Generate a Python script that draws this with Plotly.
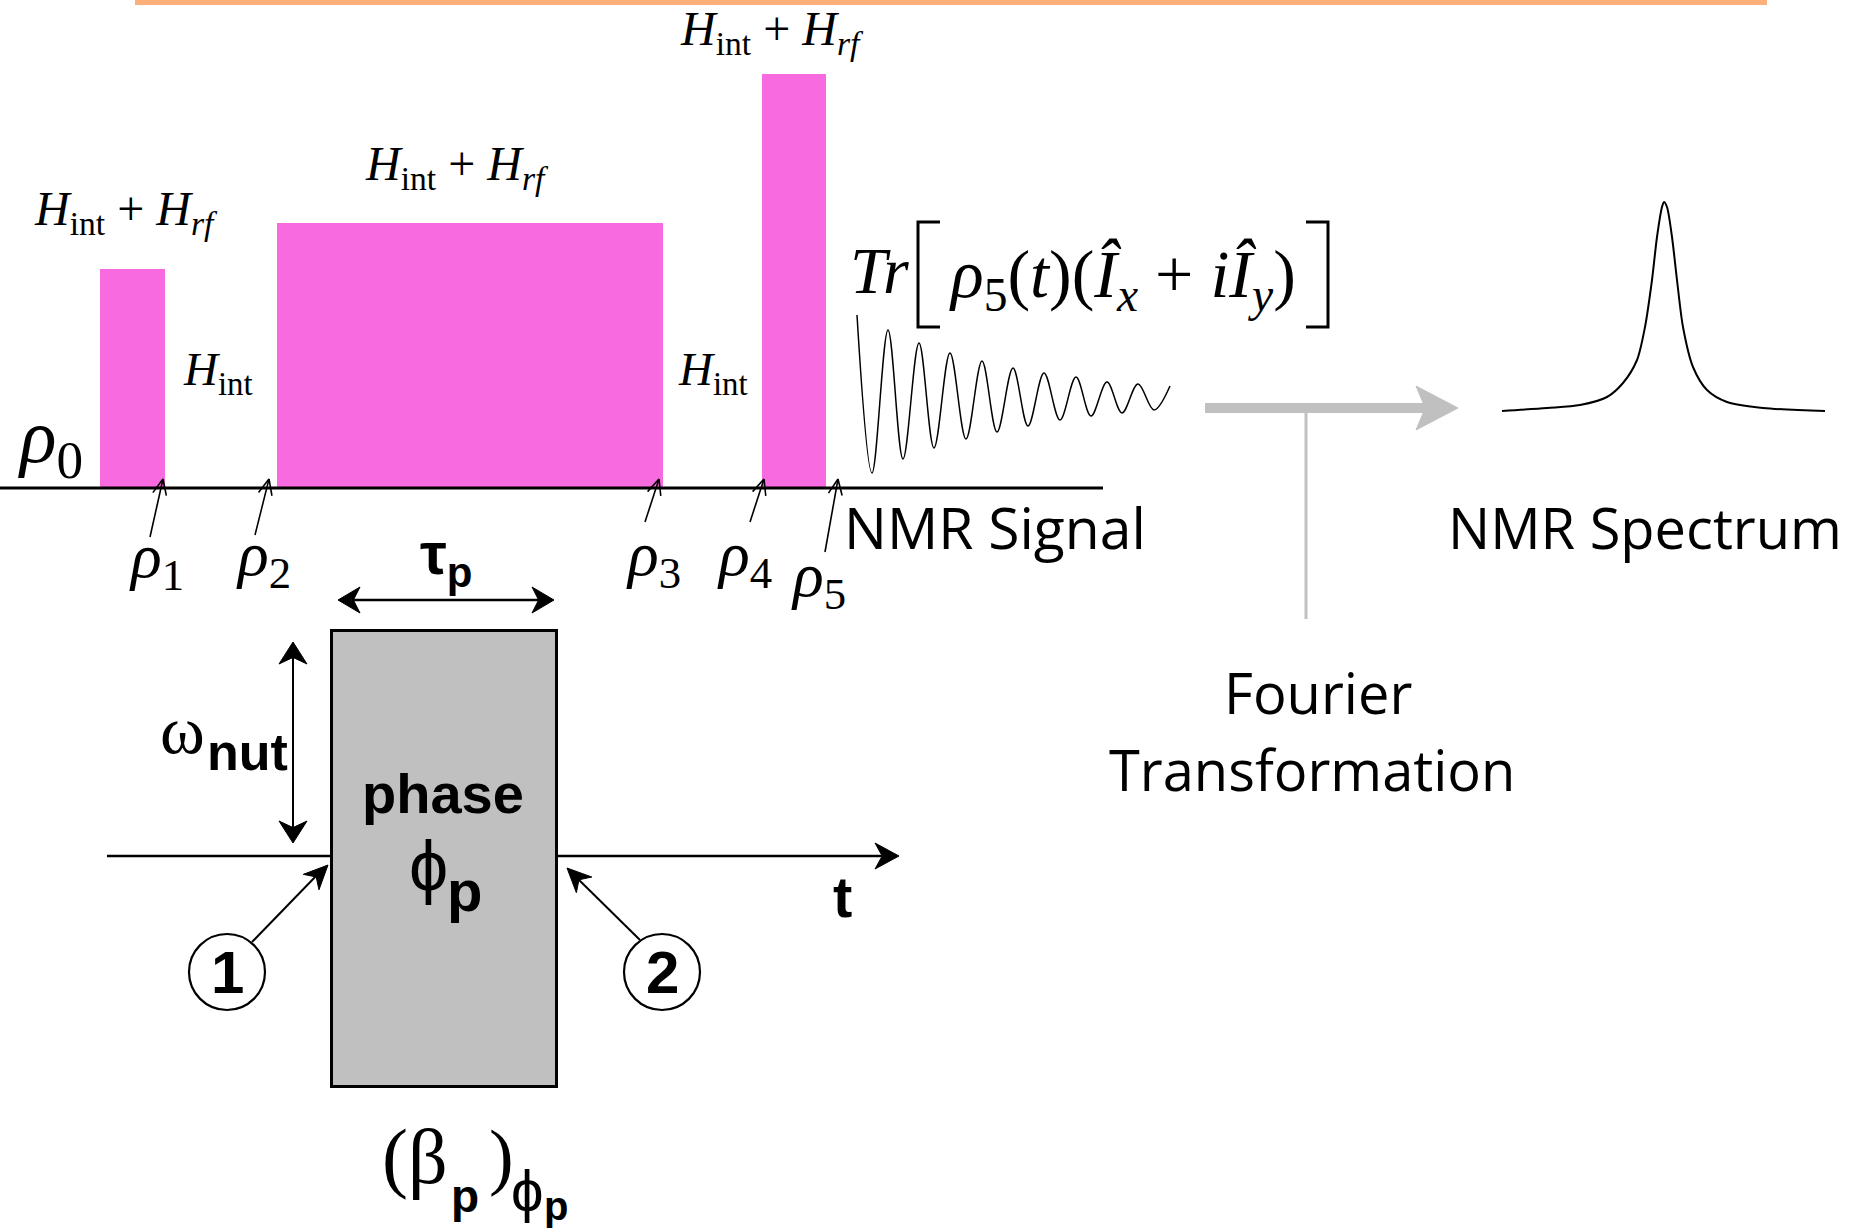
import math
import plotly.graph_objects as go

W, H = 1849, 1232

# ---- pulse sequence (pixel time axis, heights above the baseline) ----
baseline_y = 487
pulse_start = [100, 277, 762]
pulse_end = [165, 663, 826]
pulse_height = [218, 264, 413]
pulse_labels = ["<i>H</i><sub>int</sub> + <i>H</i><sub><i>rf</i></sub>"] * 3
free_labels = ["<i>H</i><sub>int</sub>", "<i>H</i><sub>int</sub>"]

# density-operator markers along the sequence
rho_names = ["1", "2", "3", "4", "5"]
rho_tip_x = [163, 269, 659, 764, 838]
rho_tail = [(150, 537), (255, 535), (645, 522), (750, 522), (825, 552)]
rho_label_pos = [(156, 560), (263, 558), (653, 558), (744, 558), (818, 579)]

# ---- free induction decay: start point and successive extrema ----
fid_t = [857, 872, 888, 903, 919, 934, 950, 966, 982, 997, 1013,
         1028, 1044, 1060, 1076, 1091, 1107, 1122, 1138, 1154, 1170]
fid_y = [315, 473, 330, 459, 343, 448, 353, 439, 361, 432, 368,
         426, 373, 420, 377, 416, 382, 413, 384, 410, 386]

# ---- spectrum line shape ----
spec_x = [1502, 1547, 1580, 1607, 1623, 1637, 1645, 1652, 1657, 1662, 1664,
          1667, 1672, 1677, 1683, 1693, 1707, 1727, 1763, 1825]
spec_y = [411, 408, 405, 397, 383, 360, 327, 280, 237, 207, 202,
          207, 237, 280, 327, 367, 390, 402, 408, 411]

# ---- single rectangular pulse ----
box_x = [332, 557]
box_y = [631, 1087]

SERIF = "Liberation Serif"
SANS = "Liberation Sans"
SOFT = "Open Sans"
PINK = "#F86ADF"
GREY = "#C0C0C0"

fig = go.Figure()

# pink pulses as bars rising from the baseline
fig.add_trace(go.Bar(
    x=[(a + b) / 2 for a, b in zip(pulse_start, pulse_end)],
    width=[b - a for a, b in zip(pulse_start, pulse_end)],
    base=[baseline_y] * 3,
    y=[-h for h in pulse_height],
    marker=dict(color=PINK, line=dict(width=0)),
    hoverinfo="skip", showlegend=False,
))

# grey pulse block
fig.add_trace(go.Bar(
    x=[(box_x[0] + box_x[1]) / 2], width=[box_x[1] - box_x[0]],
    base=[box_y[0]], y=[box_y[1] - box_y[0]],
    marker=dict(color=GREY, line=dict(color="black", width=3)),
    hoverinfo="skip", showlegend=False,
))

# FID
fig.add_trace(go.Scatter(
    x=fid_t, y=fid_y, mode="lines",
    line=dict(color="black", width=1.5, shape="spline", smoothing=1.0),
    hoverinfo="skip", showlegend=False,
))

# spectrum
fig.add_trace(go.Scatter(
    x=spec_x, y=spec_y, mode="lines",
    line=dict(color="black", width=2, shape="spline", smoothing=0.8),
    hoverinfo="skip", showlegend=False,
))

shapes = []


def line(x0, y0, x1, y1, color="black", width=2, layer="above"):
    shapes.append(dict(type="line", x0=x0, y0=y0, x1=x1, y1=y1,
                       xref="x", yref="y", line=dict(color=color, width=width),
                       layer=layer))


def stealth(tx, ty, fx, fy, length=22, half=13, notch=0.3, color="black"):
    """Filled arrowhead with tip at (tx, ty), pointing away from (fx, fy)."""
    dx, dy = tx - fx, ty - fy
    n = math.hypot(dx, dy)
    ux, uy = dx / n, dy / n
    px, py = -uy, ux
    bx, by = tx - ux * length, ty - uy * length
    ix, iy = tx - ux * length * (1 - notch), ty - uy * length * (1 - notch)
    path = (f"M {tx} {ty} L {bx + px * half} {by + py * half} "
            f"L {ix} {iy} L {bx - px * half} {by - py * half} Z")
    shapes.append(dict(type="path", path=path, xref="x", yref="y",
                       fillcolor=color, line=dict(color=color, width=1),
                       layer="above"))


def chevron(tx, ty, fx, fy, length=17, angle=24, width=1.6):
    dx, dy = tx - fx, ty - fy
    n = math.hypot(dx, dy)
    ux, uy = -dx / n, -dy / n
    for s in (1, -1):
        a = math.radians(angle) * s
        vx = ux * math.cos(a) - uy * math.sin(a)
        vy = ux * math.sin(a) + uy * math.cos(a)
        line(tx, ty, tx + vx * length, ty + vy * length, width=width)


# orange rule at the top
shapes.append(dict(type="rect", x0=135, x1=1767, y0=0, y1=5, xref="x", yref="y",
                   fillcolor="#FFB07A", line=dict(width=0), layer="below"))

# sequence baseline
line(0, baseline_y + 1, 1103, baseline_y + 1, width=3)

# rho arrows
for tip_x, (tx0, ty0) in zip(rho_tip_x, rho_tail):
    tip = (tip_x, 479)
    line(tx0, ty0, tip[0], tip[1], width=1.6)
    chevron(tip[0], tip[1], tx0, ty0)

# trace brackets
shapes.append(dict(type="path", path="M 940 222 L 918 222 L 918 327 L 940 327",
                   xref="x", yref="y", line=dict(color="black", width=3)))
shapes.append(dict(type="path", path="M 1306 222 L 1328 222 L 1328 327 L 1306 327",
                   xref="x", yref="y", line=dict(color="black", width=3)))

# Fourier transform arrow
line(1205, 408, 1425, 408, color=GREY, width=10)
stealth(1458, 408, 1205, 408, length=42, half=22, notch=0.22, color=GREY)
line(1306, 412, 1306, 619, color=GREY, width=3)

# time axis of the single pulse (passes behind the pulse block)
line(107, 856, 885, 856, width=2.5, layer="below")
stealth(899, 856, 107, 856, length=24, half=13)

# tau_p span
line(350, 600, 542, 600, width=2.5)
stealth(338, 600, 554, 600, length=22, half=13)
stealth(554, 600, 338, 600, length=22, half=13)

# omega_nut span
line(293, 655, 293, 830, width=2)
stealth(293, 642, 293, 843, length=22, half=14)
stealth(293, 843, 293, 642, length=22, half=14)

# numbered markers
for cx, cy in [(227, 972), (662, 972)]:
    shapes.append(dict(type="circle", x0=cx - 38, x1=cx + 38, y0=cy - 38, y1=cy + 38,
                       xref="x", yref="y", fillcolor="white",
                       line=dict(color="black", width=2.2)))
line(252, 942, 318, 874, width=2)
stealth(328, 865, 252, 942, length=24, half=11)
line(640, 940, 576, 877, width=2)
stealth(567, 868, 640, 940, length=24, half=11)

annotations = []


def txt(x, y, s, size, family=SERIF, xanchor="center", yanchor="middle"):
    annotations.append(dict(x=x, y=y, xref="x", yref="y", text=s, showarrow=False,
                            xanchor=xanchor, yanchor=yanchor,
                            font=dict(family=family, size=size, color="black")))


# Hamiltonian labels
label_pos = [(126, 212), (457, 167), (772, 32)]
for (lx, ly), s in zip(label_pos, pulse_labels):
    txt(lx, ly, s, 48)
for lx, s in zip([218, 713], free_labels):
    txt(lx, 372, s, 47)

# density operators
txt(50, 442, "<i>ρ</i><sub>0</sub>", 76)
for (lx, ly), n in zip(rho_label_pos, rho_names):
    txt(lx, ly, f"<i>ρ</i><sub>{n}</sub>", 64)

# detected signal expression
txt(848, 270, "<i>Tr</i>", 66, xanchor="left")
txt(1122, 278, "<i>ρ</i><sub>5</sub>(<i>t</i>)(<i>Î</i><sub><i>x</i></sub> + <i>i</i><i>Î</i><sub><i>y</i></sub>)", 68)

# captions
txt(842, 527, "NMR Signal", 57, SOFT, xanchor="left")
txt(1645, 527, "NMR Spectrum", 56, SOFT)
txt(1318, 692, "Fourier", 56, SOFT)
txt(1312, 769, "Transformation", 56, SOFT)

# single pulse annotations
txt(446, 558, "<b>τ<sub>p</sub></b>", 60, SANS)
txt(182, 730, "ω", 68, SERIF)
txt(247, 752, "<b>nut</b>", 52, SANS)
txt(443, 793, "<b>phase</b>", 56, SANS)
txt(428, 866, "ϕ", 70, SANS)
txt(464, 890, "<b>p</b>", 58, SANS)
txt(842, 896, "<b>t</b>", 58, SANS)
txt(227, 972, "<b>1</b>", 60, SANS)
txt(662, 972, "<b>2</b>", 60, SANS)

# flip angle and phase of the pulse
txt(380, 1156, "(β", 78, SERIF, xanchor="left")
txt(465, 1196, "<b>p</b>", 46, SANS)
txt(487, 1156, ")", 74, SERIF, xanchor="left")
txt(527, 1190, "ϕ", 58, SANS)
txt(556, 1206, "<b>p</b>", 40, SANS)

fig.update_layout(
    width=W, height=H, autosize=False,
    margin=dict(l=0, r=0, t=0, b=0),
    paper_bgcolor="white", plot_bgcolor="white",
    xaxis=dict(range=[0, W], visible=False, fixedrange=True),
    yaxis=dict(range=[H, 0], visible=False, fixedrange=True),
    shapes=shapes, annotations=annotations,
    barmode="overlay", bargap=0,
    showlegend=False,
)

fig.write_html("out.html", config={"displayModeBar": False})
